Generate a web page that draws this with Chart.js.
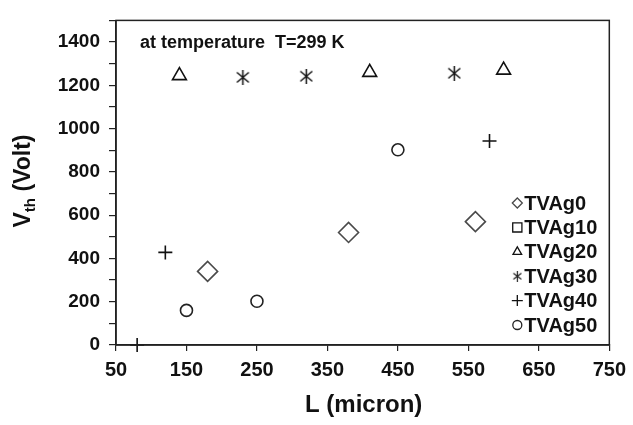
<!DOCTYPE html>
<html>
<head>
<meta charset="utf-8">
<script src="https://cdn.jsdelivr.net/npm/chart.js@4.4.1/dist/chart.umd.min.js"></script>
<style>
  html, body { margin: 0; padding: 0; background: #fff; }
  #wrap { width: 633px; height: 425px; position: relative; }
</style>
</head>
<body>
<div id="wrap"><canvas id="chart" width="633" height="425"></canvas></div>
<script>
// series data (L in micron, Vth in volt)
const seriesNames = ["TVAg0", "TVAg10", "TVAg20", "TVAg30", "TVAg40", "TVAg50"];

const ag0L = [180, 380, 560];
const ag0V = [340, 520, 570];

const ag10L = [];
const ag10V = [];

const ag20L = [140, 410, 600];
const ag20V = [1245, 1260, 1270];

const ag30L = [230, 320, 530];
const ag30V = [1237, 1242, 1256];

const ag40L = [80, 120, 580];
const ag40V = [0, 428, 943];

const ag50L = [150, 250, 450];
const ag50V = [160, 202, 902];

const xTicks = [50, 150, 250, 350, 450, 550, 650, 750];
const yLabels = [0, 200, 400, 600, 800, 1000, 1200, 1400];

const FONT = "'Liberation Sans', Arial, sans-serif";

function pairs(xs, ys) {
  return xs.map((x, i) => ({ x: x, y: ys[i] }));
}

// asterisk marker: an X with a vertical stroke through it
function makeAsterisk(size, lw, color) {
  const c = document.createElement("canvas");
  c.width = size; c.height = size;
  const g = c.getContext("2d");
  g.strokeStyle = color;
  g.lineWidth = lw;
  const m = 1.5;
  g.beginPath();
  g.moveTo(m, m + 1); g.lineTo(size - m, size - m - 1);
  g.moveTo(size - m, m + 1); g.lineTo(m, size - m - 1);
  g.moveTo(size / 2, 0); g.lineTo(size / 2, size);
  g.stroke();
  return c;
}

const starBig = makeAsterisk(15, 1.5, "#111");
const starSmall = makeAsterisk(11, 1.2, "#222");

function series(label, xs, ys, style, radius, color) {
  return {
    label: label,
    data: pairs(xs, ys),
    pointStyle: style,
    pointRadius: radius,
    pointHoverRadius: radius,
    pointBorderWidth: 1.6,
    borderColor: color,
    pointBorderColor: color,
    backgroundColor: "rgba(0,0,0,0)",
    pointBackgroundColor: "rgba(0,0,0,0)",
    showLine: false,
    clip: false
  };
}

const datasets = [
  series(seriesNames[0], ag0L, ag0V, "rectRot", 10, "#4a4a4a"),
  series(seriesNames[1], ag10L, ag10V, "rect", 7, "#111"),
  series(seriesNames[2], ag20L, ag20V, "triangle", 8, "#111"),
  series(seriesNames[3], ag30L, ag30V, starBig, 8, "#111"),
  series(seriesNames[4], ag40L, ag40V, "cross", 7, "#111"),
  series(seriesNames[5], ag50L, ag50V, "circle", 6, "#222")
];

// legend marker sizes (smaller than on the plot)
const legendRadius = [5, 6.5, 5, 0, 5.5, 4.5];

// plot frame, inset legend, annotation and axis titles
const decorations = {
  id: "decorations",
  afterDraw(chart) {
    const ctx = chart.ctx;
    const a = chart.chartArea;
    ctx.save();

    // frame
    ctx.strokeStyle = "#222";
    ctx.lineWidth = 1.5;
    ctx.strokeRect(a.left, a.top, a.right - a.left, a.bottom - a.top);

    // annotation
    ctx.fillStyle = "#111";
    ctx.font = "bold 18px " + FONT;
    ctx.textAlign = "left";
    ctx.textBaseline = "middle";
    ctx.fillText("at temperature  T=299 K", a.left + 24, a.top + 23);

    // legend
    ctx.font = "bold 20px " + FONT;
    chart.data.datasets.forEach((ds, i) => {
      const y = 203 + i * 24.4;
      const mx = a.right - 92;
      ctx.strokeStyle = ds.pointBorderColor;
      ctx.fillStyle = "rgba(0,0,0,0)";
      ctx.lineWidth = 1.3;
      if (ds.pointStyle === starBig) {
        ctx.drawImage(starSmall, mx - 5.5, y - 5.5);
      } else {
        Chart.helpers.drawPoint(ctx, {
          pointStyle: ds.pointStyle,
          radius: legendRadius[i],
          rotation: 0,
          borderWidth: 1.3
        }, mx, y);
      }
      ctx.fillStyle = "#111";
      ctx.textAlign = "left";
      ctx.textBaseline = "middle";
      ctx.fillText(ds.label, mx + 7, y + 1);
    });

    // x title
    ctx.fillStyle = "#111";
    ctx.font = "bold 24px " + FONT;
    ctx.textAlign = "center";
    ctx.textBaseline = "middle";
    ctx.fillText("L (micron)", (a.left + a.right) / 2 + 1, 405);

    // y title with subscript
    ctx.translate(24, 181);
    ctx.rotate(-Math.PI / 2);
    const big = "bold 23px " + FONT;
    const small = "bold 15px " + FONT;
    ctx.font = big;
    const w1 = ctx.measureText("V").width;
    const w3 = ctx.measureText(" (Volt)").width;
    ctx.font = small;
    const w2 = ctx.measureText("th").width;
    let x = -(w1 + w2 + w3) / 2;
    ctx.textAlign = "left";
    ctx.font = big;
    ctx.fillText("V", x, 0);
    x += w1;
    ctx.font = small;
    ctx.fillText("th", x, 7);
    x += w2;
    ctx.font = big;
    ctx.fillText(" (Volt)", x, 0);

    ctx.restore();
  }
};

new Chart(document.getElementById("chart"), {
  type: "scatter",
  data: { datasets: datasets },
  plugins: [decorations],
  options: {
    responsive: false,
    animation: false,
    events: [],
    layout: { padding: { left: 0, right: 21, top: 13, bottom: 0 } },
    plugins: {
      legend: { display: false },
      tooltip: { enabled: false }
    },
    scales: {
      x: {
        type: "linear",
        min: xTicks[0],
        max: xTicks[xTicks.length - 1],
        afterBuildTicks: s => { s.ticks = xTicks.map(v => ({ value: v })); },
        afterFit: s => { s.height = 80; },
        ticks: {
          color: "#111",
          font: { family: FONT, size: 20, weight: "bold" },
          padding: 7,
          maxRotation: 0,
          autoSkip: false
        },
        grid: { drawOnChartArea: false, drawTicks: true, tickLength: 6, color: "#222", lineWidth: 1.2 },
        border: { display: true, color: "#222", width: 1.5 }
      },
      y: {
        type: "linear",
        min: 0,
        max: 1500,
        afterFit: s => { s.width = 116; },
        ticks: {
          stepSize: 100,
          color: "#111",
          font: { family: FONT, size: 19, weight: "bold" },
          padding: 9,
          autoSkip: false,
          callback: v => (yLabels.includes(v) ? String(v) : "")
        },
        grid: { drawOnChartArea: false, drawTicks: true, tickLength: 7, color: "#222", lineWidth: 1.2 },
        border: { display: true, color: "#222", width: 1.5 }
      }
    }
  }
});
</script>
</body>
</html>
